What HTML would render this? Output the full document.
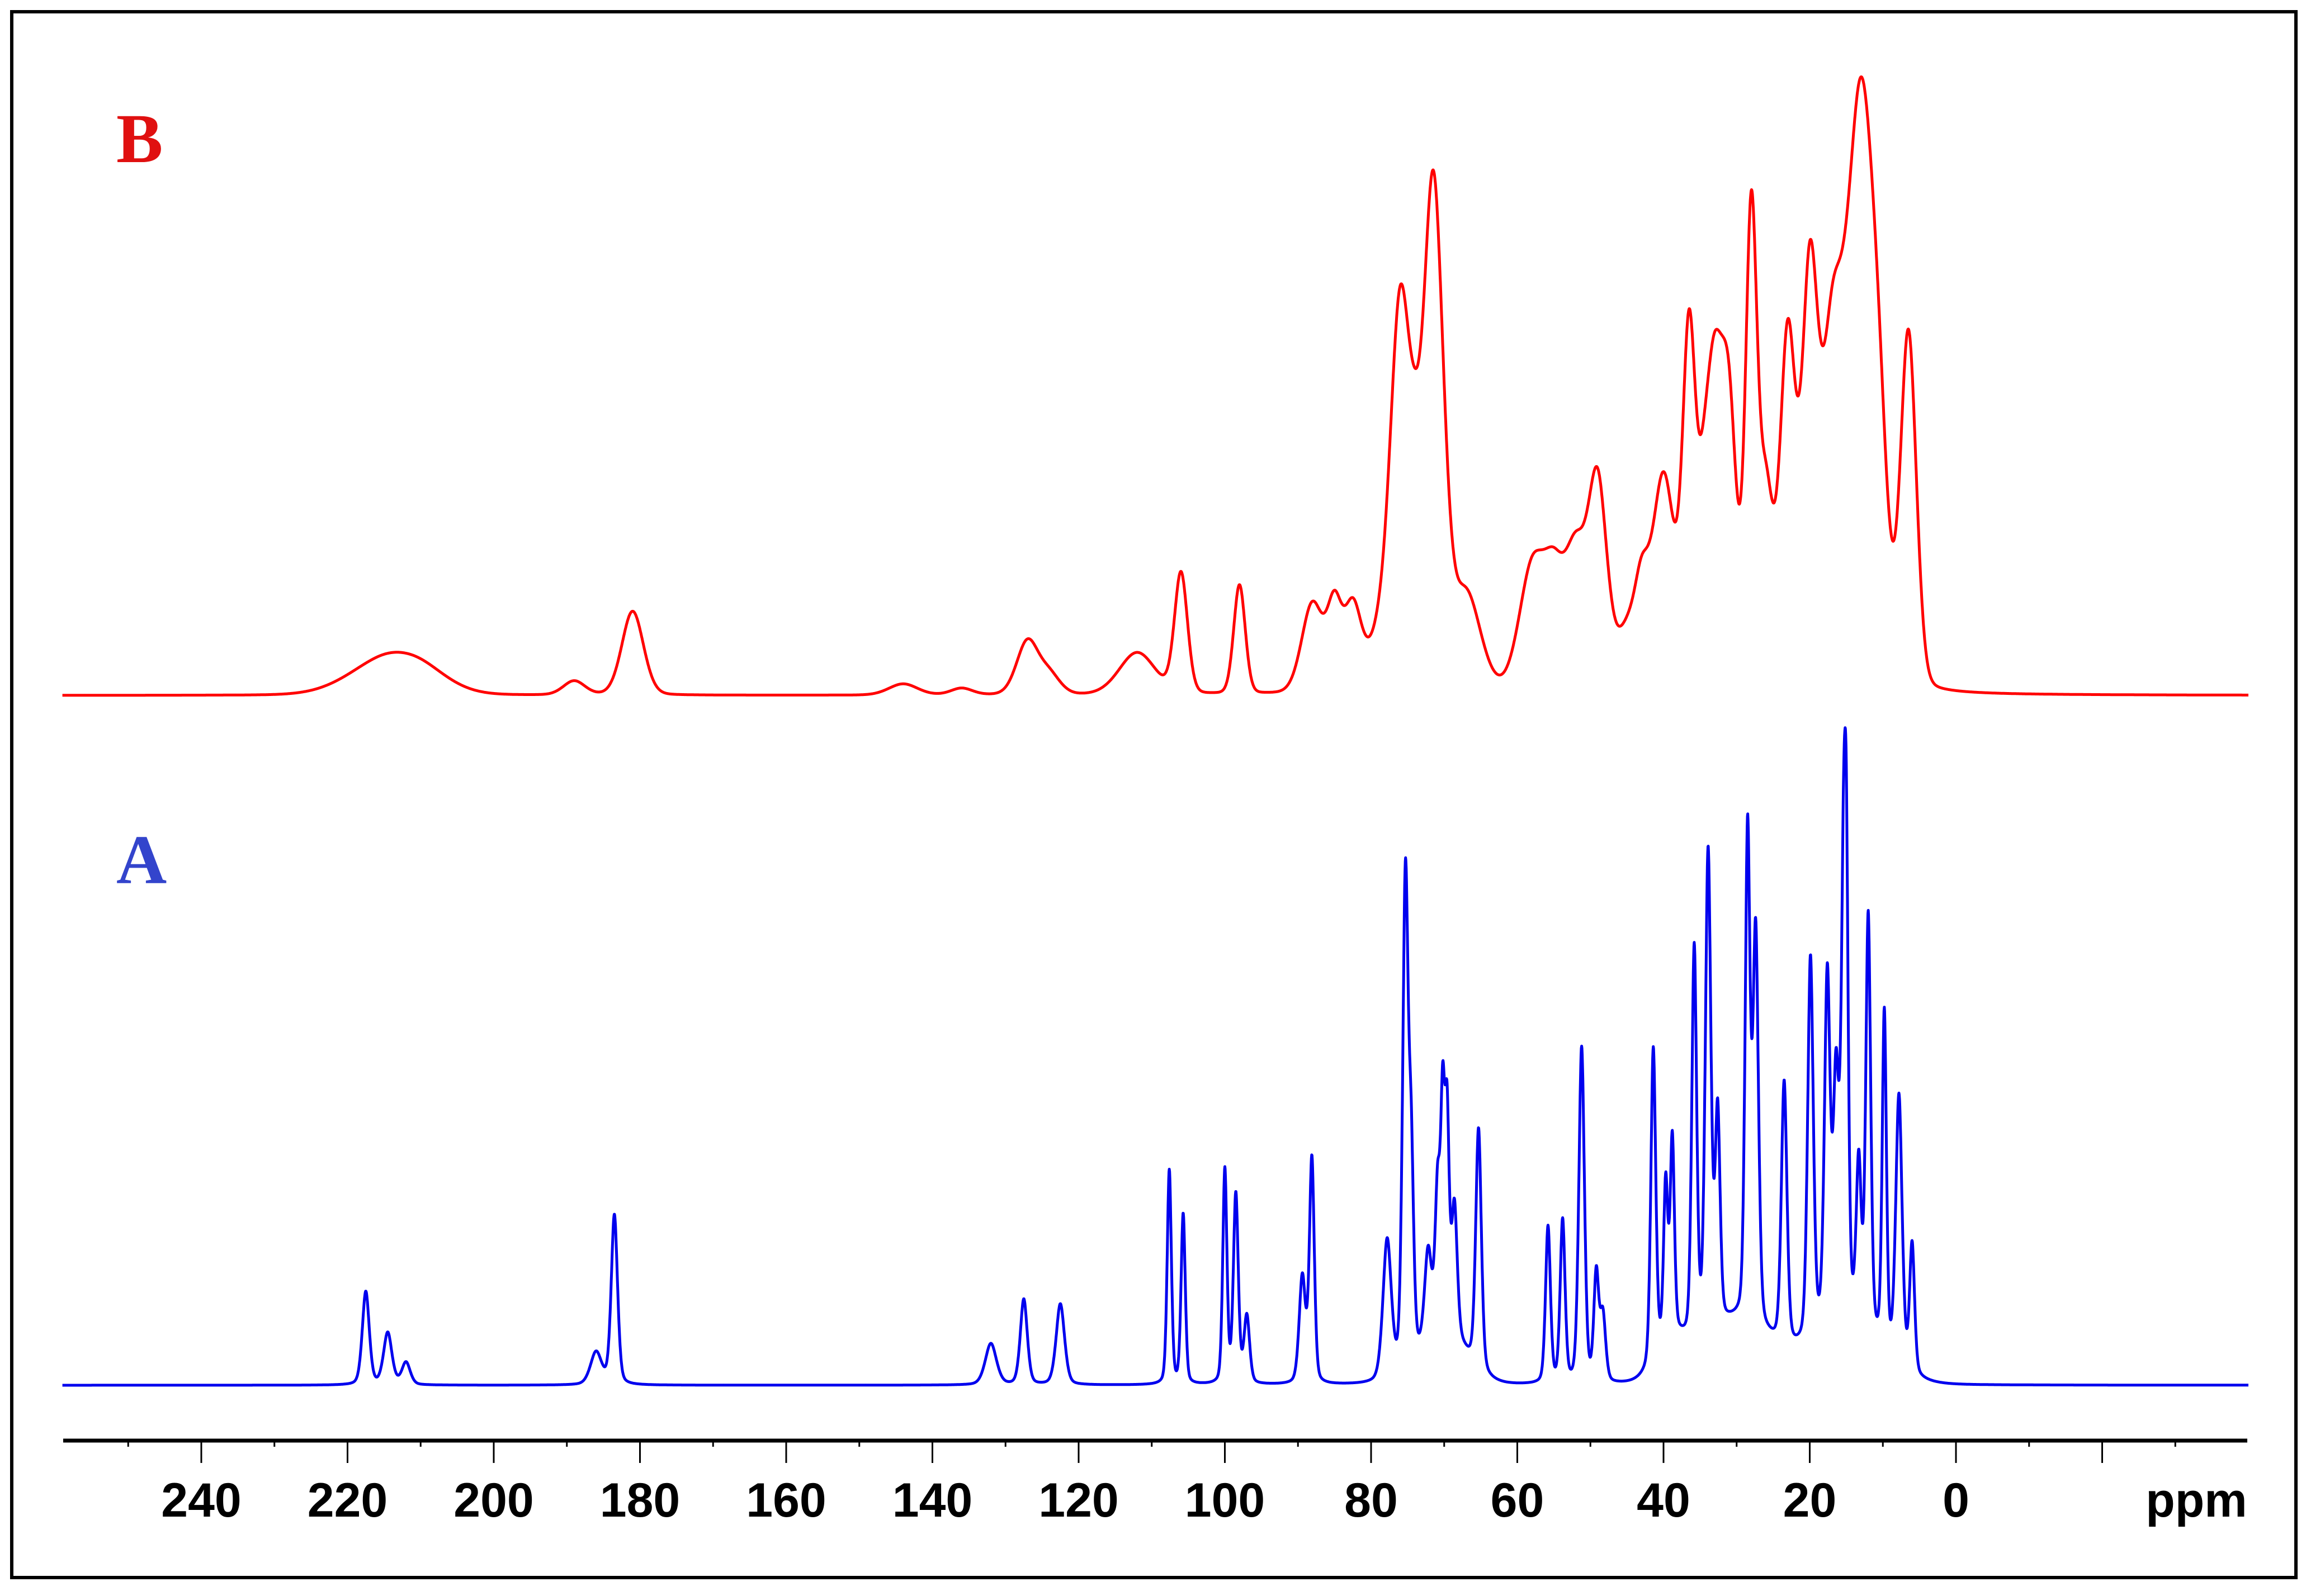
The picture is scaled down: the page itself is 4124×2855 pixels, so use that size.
<!DOCTYPE html>
<html><head><meta charset="utf-8"><style>
html,body{margin:0;padding:0;background:#fff;}
svg{display:block;}
</style></head><body>
<svg id="chart" width="4124" height="2855" viewBox="0 0 4124 2855" xmlns="http://www.w3.org/2000/svg">
<rect x="21" y="21" width="4085" height="2801" fill="#fff" stroke="#000" stroke-width="6"/>
<text x="208" y="290" font-family="Liberation Serif, serif" font-weight="bold" font-size="125" fill="#e01010">B</text>
<text x="208" y="1580" font-family="Liberation Serif, serif" font-weight="bold" font-size="125" fill="#3344cc">A</text>
<g id="axis"></g>
<path id="lineB" fill="none" stroke="#ff0000" stroke-width="5" stroke-linejoin="round"/>
<path id="lineA" fill="none" stroke="#0000ee" stroke-width="5" stroke-linejoin="round"/>
</svg>
<script>
// Peak data: [ppm, height (px above baseline), width (ppm)]
const peaksB = [[215,60,5],[210,30,4],[189,25,1.5],[181,150,1.5],[144,20,2],[136,12,1.5],[127,95,1.5],[124,35,1.5],[112,75,2.5],[106,215,0.9],[98,195,0.8],[88,160,1.5],[85,140,1],[82.5,150,1.2],[79,80,1.5],[76,680,1.4],[74,150,1],[71.5,900,1.4],[67,170,2],[58,215,1.8],[55,170,1.5],[52,230,1.5],[49,360,1.3],[45,100,1.5],[43,130,1],[40,380,1.6],[36.5,600,0.9],[34.5,200,1],[33,480,1.2],[31,440,1.1],[28,820,0.8],[26,330,1],[23,620,1.1],[20,690,1.1],[17,540,1.5],[13,1050,2.0],[10.5,200,1.2],[6.5,630,1.1]];
const peaksA = [[217.5,167,0.5],[214.5,93,0.6],[212,40,0.6],[186,58,0.8],[183.5,304,0.45],[132,74,0.8],[127.5,153,0.5],[122.5,145,0.6],[107.6,383,0.3],[105.7,304,0.3],[100,383,0.3],[98.5,338,0.35],[97,120,0.4],[89.4,190,0.45],[88.1,402,0.35],[77.8,250,0.6],[75.3,880,0.4],[74.5,330,0.35],[72.2,160,0.5],[70.9,250,0.35],[70.2,380,0.3],[69.6,360,0.3],[68.6,230,0.4],[65.3,430,0.4],[55.8,280,0.35],[53.8,290,0.35],[51.2,600,0.4],[49.2,190,0.35],[48.3,120,0.4],[41.4,560,0.35],[39.7,280,0.3],[38.8,350,0.3],[35.8,700,0.35],[33.9,860,0.4],[32.6,380,0.35],[28.5,870,0.35],[27.4,700,0.4],[23.5,470,0.4],[19.9,680,0.4],[17.6,620,0.4],[16.4,420,0.4],[15.4,650,0.35],[15.0,650,0.3],[13.3,280,0.35],[12.0,740,0.35],[9.8,600,0.3],[7.8,480,0.45],[6.0,230,0.35]];
const humpsA = [[30,110,5],[15,110,4.5],[70,90,3],[39,60,2]];
const tickLabels = [240,220,200,180,160,140,120,100,80,60,40,20,0];
const baseB = 1244, baseA = 2478;
const X0 = 3498, PX = 13.075;
function xs(p){return X0 - p*PX;}
function gauss(p,pk){const d=(p-pk[0])/pk[2];return Math.exp(-0.5*d*d);}
function lor(p,pk){const d=(p-pk[0])/pk[2];return 1/(1+d*d);}
function build(peaks,humps,base,mix){
  let d='';
  for(let p=259;p>=-40;p-=0.04){
    let s=0;
    for(const pk of peaks){s+=pk[1]*((1-mix)*gauss(p,pk)+mix*lor(p,pk));}
    for(const h of humps){s+=h[1]*gauss(p,h);}
    d+=(d?'L':'M')+xs(p).toFixed(1)+','+(base-s).toFixed(1);
  }
  return d;
}
document.getElementById('lineB').setAttribute('d',build(peaksB,[],baseB,0.15));
document.getElementById('lineA').setAttribute('d',build(peaksA,humpsA,baseA,0.35));
const ax=document.getElementById('axis');
const NS='http://www.w3.org/2000/svg';
const ln=document.createElementNS(NS,'line');


ln.setAttribute('x1',113);ln.setAttribute('x2',4019);ln.setAttribute('y1',2577);ln.setAttribute('y2',2577);
ln.setAttribute('stroke','#000');ln.setAttribute('stroke-width','7');
ax.appendChild(ln);
for(let v=250;v>=-30;v-=10){
  const major=(v%20===0);
  const t=document.createElementNS(NS,'line');
  
  
  t.setAttribute('x1',xs(v));t.setAttribute('x2',xs(v));
  t.setAttribute('y1',2577);t.setAttribute('y2',major?2617:2588);
  t.setAttribute('stroke','#000');t.setAttribute('stroke-width','3');
  ax.appendChild(t);
}
for(const v of tickLabels){
  const t=document.createElementNS(NS,'text');
  
  
  t.setAttribute('x',xs(v));t.setAttribute('y',2713);
  t.setAttribute('text-anchor','middle');
  t.setAttribute('font-family','Liberation Sans, sans-serif');
  t.setAttribute('font-weight','bold');t.setAttribute('font-size','86');
  t.textContent=v;ax.appendChild(t);
}
const u=document.createElementNS(NS,'text');


u.setAttribute('x',3928);u.setAttribute('y',2713);u.setAttribute('text-anchor','middle');
u.setAttribute('font-family','Liberation Sans, sans-serif');
u.setAttribute('font-weight','bold');u.setAttribute('font-size','86');
u.textContent='ppm';ax.appendChild(u);
</script>
</body></html>
